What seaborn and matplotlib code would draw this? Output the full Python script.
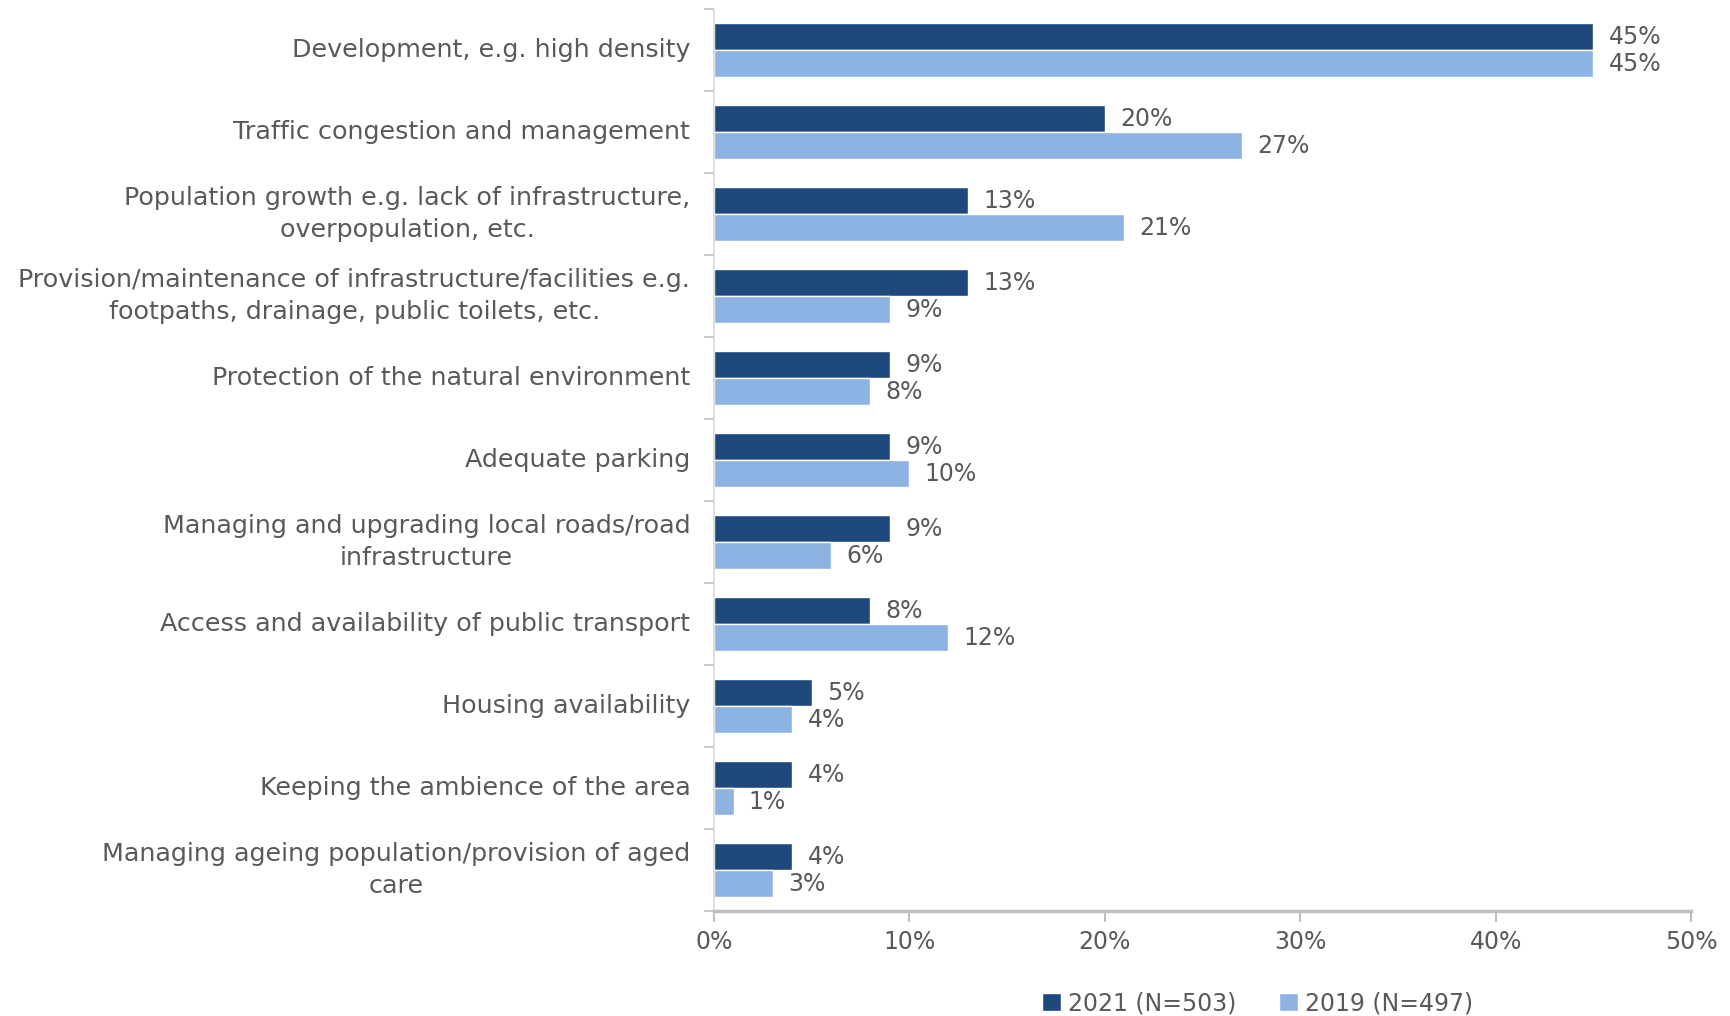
import matplotlib
matplotlib.use("Agg")
import matplotlib.pyplot as plt
import seaborn as sns
import pandas as pd
from matplotlib.ticker import PercentFormatter

categories = [
    "Development, e.g. high density",
    "Traffic congestion and management",
    "Population growth e.g. lack of infrastructure,\noverpopulation, etc.",
    "Provision/maintenance of infrastructure/facilities e.g.\nfootpaths, drainage, public toilets, etc.",
    "Protection of the natural environment",
    "Adequate parking",
    "Managing and upgrading local roads/road\ninfrastructure",
    "Access and availability of public transport",
    "Housing availability",
    "Keeping the ambience of the area",
    "Managing ageing population/provision of aged\ncare",
]
series_names = ["2021 (N=503)", "2019 (N=497)"]
values_2021 = [45, 20, 13, 13, 9, 9, 9, 8, 5, 4, 4]
values_2019 = [45, 27, 21, 9, 8, 10, 6, 12, 4, 1, 3]
x_ticks = [0, 10, 20, 30, 40, 50]

colors = ["#1F497D", "#8DB3E2"]
text_gray = "#595959"
axis_gray = "#BFBFBF"

df = pd.DataFrame({
    "category": categories * 2,
    "value": values_2021 + values_2019,
    "series": [series_names[0]] * len(categories) + [series_names[1]] * len(categories),
})

sns.set_theme(style="white")
plt.rcParams["font.family"] = ["DejaVu Sans"]

fig = plt.figure(figsize=(17.3, 10.16), dpi=100)
ax = fig.add_axes([0.4127, 0.1033, 0.5648, 0.8877])

sns.barplot(data=df, y="category", x="value", hue="series", order=categories,
            hue_order=series_names, palette=colors, orient="h", width=0.66,
            saturation=1, ax=ax, legend=True)

for container in ax.containers:
    ax.bar_label(container, fmt="%g%%", padding=11, fontsize=17, color=text_gray)

ax.set_xlim(0, 50)
ax.set_ylim(len(categories) - 0.5, -0.5)
ax.set_xticks(x_ticks)
ax.xaxis.set_major_formatter(PercentFormatter(decimals=0))
ax.set_xlabel("")
ax.set_ylabel("")

# category boundary ticks on the vertical axis
ax.set_yticks([i - 0.5 for i in range(len(categories) + 1)], minor=True)
ax.tick_params(axis="y", which="major", length=0, pad=17, labelsize=18.3, labelcolor=text_gray)
ax.tick_params(axis="y", which="minor", left=True, length=7, width=1.2, color=axis_gray)
ax.tick_params(axis="x", which="major", bottom=True, length=8, width=1.5, color=axis_gray,
               labelsize=17, labelcolor=text_gray, pad=6)
for lab in ax.get_yticklabels():
    lab.set_multialignment("center")
    lab.set_linespacing(1.4)
    lab.set_verticalalignment("center")

for side in ["top", "right"]:
    ax.spines[side].set_visible(False)
ax.spines["left"].set_color("#D9D9D9")
ax.spines["left"].set_linewidth(1.2)
ax.spines["bottom"].set_color(axis_gray)
ax.spines["bottom"].set_linewidth(2.5)
ax.grid(False)

handles, labels = ax.get_legend_handles_labels()
ax.get_legend().remove()
fig.legend(handles, labels, loc="lower center", bbox_to_anchor=(0.727, -0.02), ncol=2,
           frameon=False, fontsize=17, labelcolor=text_gray, handlelength=0.8,
           handleheight=0.8, handletextpad=0.3, columnspacing=1.8)

fig.savefig("out.png", dpi=100)
